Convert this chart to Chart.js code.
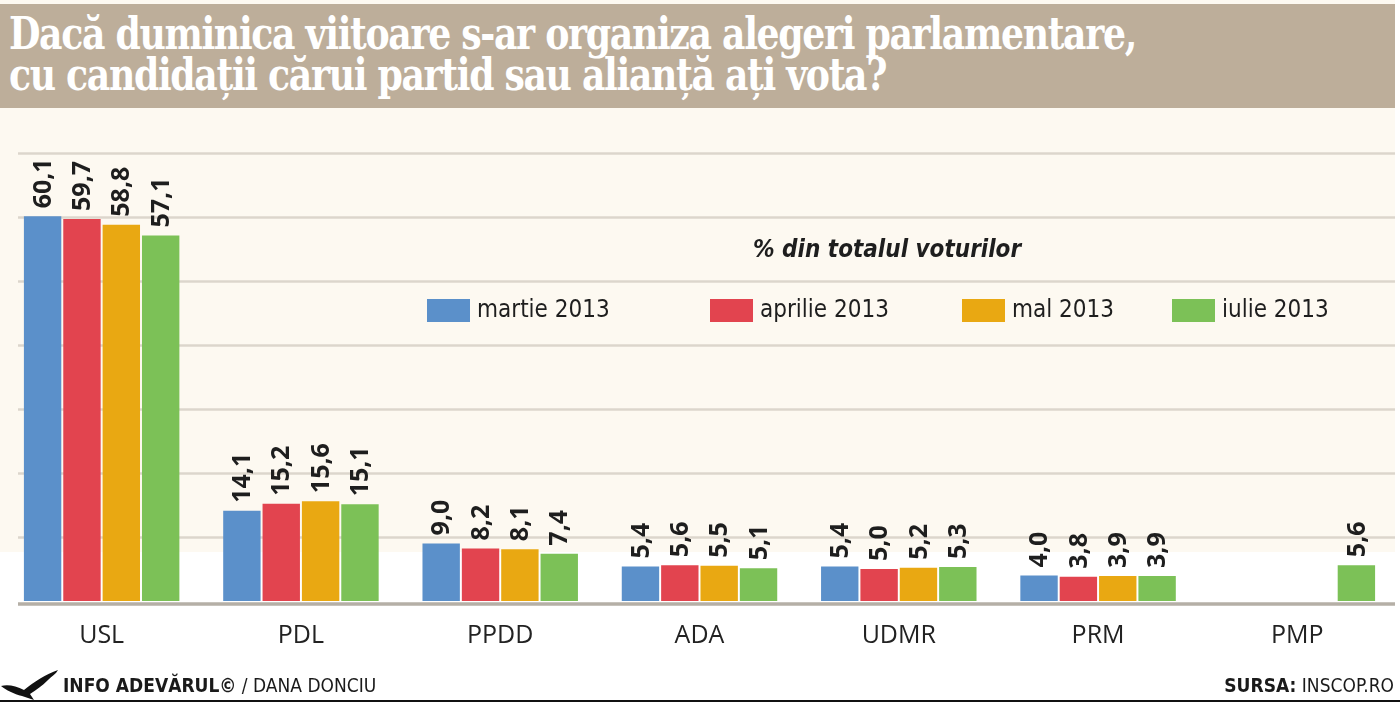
<!DOCTYPE html>
<html>
<head>
<meta charset="utf-8">
<script src="https://cdn.jsdelivr.net/npm/chart.js@4/dist/chart.umd.min.js"></script>
<style>
  html, body { margin: 0; padding: 0; background: #ffffff; }
  #wrap { position: relative; width: 1400px; height: 704px; overflow: hidden; }
  #chart { position: absolute; left: 0; top: 0; }
  #titleBand {
    position: absolute; left: 0; top: 4px; width: 1395px; height: 104px;
    background: #bdae9a;
  }
  #title {
    position: absolute; left: 9px; top: 9px; color: #ffffff;
    font-family: "DejaVu Serif Condensed", "DejaVu Serif", serif; font-weight: bold;
    font-size: 45px; line-height: 41px; white-space: nowrap;
    transform-origin: 0 0; letter-spacing: -1.5px;
  }
  .foot {
    position: absolute; top: 674px; font-size: 19px; color: #1a1a1a; white-space: nowrap;
    font-family: "Liberation Sans Narrow", "DejaVu Sans Condensed", sans-serif;
  }
  .foot b { font-weight: bold; }
  #rule { position: absolute; left: 0; top: 700px; width: 1400px; height: 2px; background: #111; }
</style>
</head>
<body>
<div id="wrap">
  <canvas id="chart" width="1400" height="704"></canvas>
  <div id="titleBand">
    <div id="title">Dacă duminica viitoare s-ar organiza alegeri parlamentare,<br>cu candidații cărui partid sau alianță ați vota?</div>
  </div>
  <svg style="position:absolute;left:0;top:668px" width="64" height="34" viewBox="0 0 64 34">
    <path d="M1 18 C8 16 16 18 24 22 C34 14 46 6 58 2 C56 6 52 8 48 12 C42 18 36 22 30 26 L34 32 L28 30 L22 28 C14 26 6 22 1 18 Z" fill="#111"/>
  </svg>
  <div class="foot" style="left:63px"><b>INFO ADEVĂRUL©</b> / DANA DONCIU</div>
  <div class="foot" style="right:6px"><b>SURSA:</b> INSCOP.RO</div>
  <div id="rule"></div>
</div>
<script>
// categorii si serii (% din totalul voturilor)
const parties = ["USL", "PDL", "PPDD", "ADA", "UDMR", "PRM", "PMP"];
const seriesNames = ["martie 2013", "aprilie 2013", "mal 2013", "iulie 2013"];
const martie = [60.1, 14.1, 9.0, 5.4, 5.4, 4.0, null];
const aprilie = [59.7, 15.2, 8.2, 5.6, 5.0, 3.8, null];
const mai = [58.8, 15.6, 8.1, 5.5, 5.2, 3.9, null];
const iulie = [57.1, 15.1, 7.4, 5.1, 5.3, 3.9, 5.6];
const seriesColors = ["#5b90ca", "#e2444f", "#e9a812", "#7cc157"];
const yTicks = [0, 10, 20, 30, 40, 50, 60, 70];

// titlul comprimat ca in original
const title = document.getElementById('title');
const titleWidth = title.getBoundingClientRect().width;
title.style.transform = 'scaleX(' + (1127 / titleWidth) + ')';

const fontNarrow = '"Liberation Sans Narrow", "DejaVu Sans Condensed", sans-serif';

// fundal: crem sus, alb jos
const backdrop = {
  id: 'backdrop',
  beforeDraw(chart) {
    const ctx = chart.ctx;
    ctx.save();
    ctx.fillStyle = '#ffffff';
    ctx.fillRect(0, 0, chart.width, chart.height);
    ctx.fillStyle = '#fdf9f1';
    ctx.fillRect(0, 0, 1395, 552);
    ctx.restore();
  }
};

// liniile orizontale
const gridLines = {
  id: 'gridLines',
  beforeDatasetsDraw(chart) {
    const ctx = chart.ctx;
    const y = chart.scales.y;
    ctx.save();
    yTicks.forEach(t => {
      if (t === 0) return;
      const py = Math.round(y.getPixelForValue(t)) + 0.5;
      ctx.strokeStyle = '#dcd6cc';
      ctx.lineWidth = 2.5;
      ctx.beginPath();
      ctx.moveTo(18, py);
      ctx.lineTo(1395, py);
      ctx.stroke();
    });
    const base = y.getPixelForValue(0) + 3;
    ctx.strokeStyle = '#b5afa6';
    ctx.lineWidth = 3.5;
    ctx.beginPath();
    ctx.moveTo(18, base);
    ctx.lineTo(1395, base);
    ctx.stroke();
    ctx.restore();
  }
};

// valorile rotite deasupra barelor
const valueLabels = {
  id: 'valueLabels',
  afterDatasetsDraw(chart) {
    const ctx = chart.ctx;
    ctx.save();
    ctx.fillStyle = '#1e1e1e';
    ctx.font = 'bold 25px "Open Sans", sans-serif';
    ctx.textAlign = 'left';
    ctx.textBaseline = 'middle';
    chart.data.datasets.forEach((ds, i) => {
      chart.getDatasetMeta(i).data.forEach((bar, j) => {
        const v = ds.data[j];
        if (v === null) return;
        ctx.save();
        ctx.translate(bar.x, bar.y - 8);
        ctx.rotate(-Math.PI / 2);
        ctx.fillText(v.toFixed(1).replace('.', ','), 0, 1);
        ctx.restore();
      });
    });
    ctx.restore();
  }
};

// subtitlu si legenda
const legendBox = {
  id: 'legendBox',
  afterDraw(chart) {
    const ctx = chart.ctx;
    ctx.save();
    ctx.fillStyle = '#1e1e1e';
    ctx.textBaseline = 'middle';
    ctx.textAlign = 'center';
    ctx.font = 'italic bold 24px ' + fontNarrow;
    ctx.fillText('% din totalul voturilor', 887, 251);
    const xs = [427, 710, 962, 1172];
    ctx.textAlign = 'left';
    ctx.font = '24px ' + fontNarrow;
    chart.data.datasets.forEach((ds, i) => {
      ctx.fillStyle = ds.backgroundColor;
      ctx.fillRect(xs[i], 299, 43, 23);
      ctx.fillStyle = '#1e1e1e';
      ctx.fillText(ds.label, xs[i] + 50, 311);
    });
    ctx.restore();
  }
};

const seriesData = [martie, aprilie, mai, iulie];

new Chart(document.getElementById('chart'), {
  type: 'bar',
  data: {
    labels: parties,
    datasets: seriesData.map((d, i) => ({
      label: seriesNames[i],
      data: d,
      backgroundColor: seriesColors[i],
      categoryPercentage: 0.79,
      barPercentage: 0.95
    }))
  },
  options: {
    responsive: false,
    animation: false,
    layout: { padding: { top: 153, left: 2, right: 3, bottom: 40 } },
    plugins: { legend: { display: false }, tooltip: { enabled: false } },
    scales: {
      x: {
        grid: { display: false },
        border: { display: false },
        ticks: { color: '#222222', font: { family: '"Open Sans", sans-serif', size: 25 }, padding: 12 },
        afterFit(scale) { scale.height = 63; }
      },
      y: {
        display: false,
        min: 0, max: 70,
        ticks: { stepSize: 10 }
      }
    }
  },
  plugins: [backdrop, gridLines, valueLabels, legendBox]
});
</script>
</body>
</html>
